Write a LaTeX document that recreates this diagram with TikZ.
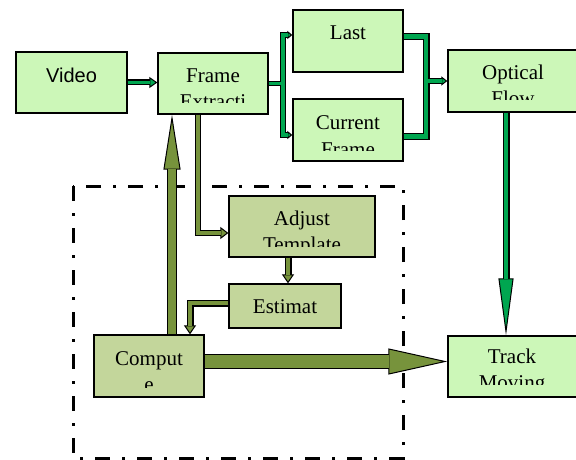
\documentclass[tikz,border=0pt]{standalone}
\usepackage{fontspec}
\setmainfont{Liberation Serif}
\newfontfamily\sansf{Liberation Sans}
\usetikzlibrary{arrows.meta,calc}
\pgfdeclarelayer{bg}
\pgfsetlayers{bg,main}
\definecolor{boxA}{HTML}{CCF7B8}
\definecolor{boxB}{HTML}{C3D69B}
\definecolor{garr}{HTML}{00A650}
\definecolor{oarr}{HTML}{77933C}
% #1 colour, #2 outer width, #3 inner width, #4 head length, #5 head width, #6 inner shortening, #7 path
\newcommand\barrow[7]{%
  \begin{pgfonlayer}{bg}
    \draw[line width=#2, black, line join=miter,
      -{Triangle[length=#4,width=#5,line width=1pt,fill=#1]}] #7;
  \end{pgfonlayer}
  \draw[line width=#3, #1, line join=miter, shorten >=#6] #7;
}
% bar without head
\newcommand\bbar[4]{%
  \begin{pgfonlayer}{bg}
    \draw[line width=#2, black, line join=miter] #4;
  \end{pgfonlayer}
  \draw[line width=#3, #1, line join=miter] #4;
}
\tikzset{
  boxa/.style={draw, line width=1.3pt, fill=boxA, rectangle, inner sep=0pt},
  boxb/.style={draw, line width=1.3pt, fill=boxB, rectangle, inner sep=0pt},
  txt/.style={anchor=base, inner sep=0pt, font=\fontsize{21}{26}\selectfont},
  stxt/.style={anchor=base, inner sep=0pt, font=\sansf\fontsize{20}{24}\selectfont},
  frame/.style={line width=3pt, dash pattern=on 15pt off 12pt on 3pt off 12pt}
}
\begin{document}
\begin{tikzpicture}[x=1pt, y=-1pt]
\useasboundingbox (0,0) rectangle (576,460);

% dashed frame (bottom layer)
\begin{pgfonlayer}{bg}
  \draw[frame] (73,186) rectangle (403,458);
\end{pgfonlayer}

% boxes
\node[boxa, minimum width=111pt, minimum height=61pt] (video) at (71.5,82.5) {};
\node[boxa, minimum width=110pt, minimum height=61pt] (fe) at (213,83.5) {};
\node[boxa, minimum width=110pt, minimum height=62pt] (last) at (348,41) {};
\node[boxa, minimum width=110pt, minimum height=62pt] (cur) at (348,130) {};
\node[boxa, minimum width=130pt, minimum height=62pt] (of) at (513,81) {};
\node[boxb, minimum width=146pt, minimum height=61pt] (adj) at (302,226.5) {};
\node[boxb, minimum width=112pt, minimum height=44pt] (est) at (285,306) {};
\node[boxb, minimum width=110pt, minimum height=62pt] (comp) at (149,366) {};
\node[boxa, minimum width=130pt, minimum height=61pt] (track) at (513,366.5) {};

% texts
\node[stxt] (video-t) at (71.5,83) {Video};
\begin{scope}
  \clip (fe.north west) rectangle (fe.east |- 0,103);
  \node[txt] (fe-t1) at (213,83) {Frame};
  \node[txt] (fe-t2) at (213,109) {Extracti};
\end{scope}
\node[txt] (last-t) at (348,40) {Last};
\begin{scope}
  \clip (cur.north west) rectangle (cur.east |- 0,150);
  \node[txt] (cur-t1) at (348,129) {Current};
  \node[txt] (cur-t2) at (348,156) {Frame};
\end{scope}
\begin{scope}
  \clip (of.north west) rectangle (of.east |- 0,100);
  \node[txt] (of-t1) at (513,80) {Optical};
  \node[txt] (of-t2) at (513,106) {Flow};
\end{scope}
\begin{scope}
  \clip (adj.north west) rectangle (adj.east |- 0,246);
  \node[txt] (adj-t1) at (302,225) {Adjust};
  \node[txt] (adj-t2) at (302,251) {Template};
\end{scope}
\node[txt] (est-t) at (285,313) {Estimat};
\begin{scope}
  \clip (comp.north west) rectangle (comp.east |- 0,387);
  \node[txt] (comp-t1) at (149,365) {Comput};
  \node[txt] (comp-t2) at (149,391) {e};
\end{scope}
\begin{scope}
  \clip (track.north west) rectangle (track.east |- 0,384);
  \node[txt] (track-t1) at (512,363) {Track};
  \node[txt] (track-t2) at (512,389) {Moving};
\end{scope}

% green connectors
\coordinate (split) at (283,83.5);
\coordinate (join) at (426,81);
\barrow{garr}{6pt}{3.6pt}{8pt}{11pt}{7pt}{(video.east) -- (video.east -| fe.west)}
\barrow{garr}{5.5pt}{3.2pt}{5pt}{8pt}{4pt}{(fe.east) -- (split) |- ([yshift=6pt]last.west)}
\barrow{garr}{5.5pt}{3.2pt}{5pt}{8pt}{4pt}{(split) |- ([yshift=-5pt]cur.west)}
\bbar{garr}{7pt}{4.6pt}{([yshift=4.5pt]last.east) -| (join)}
\bbar{garr}{7pt}{4.6pt}{([yshift=-6.5pt]cur.east) -| (join)}
\barrow{garr}{5.5pt}{3.2pt}{6pt}{9pt}{5pt}{(join) -- (of.west)}
\barrow{garr}{7pt}{4.6pt}{57pt}{15pt}{56pt}{([xshift=-7pt]of.south) -- ([xshift=-7pt]track.north)}

% olive connectors
\barrow{oarr}{10pt}{7.4pt}{55pt}{17pt}{54pt}{([xshift=23pt]comp.north) -- ([xshift=23pt]comp.north |- fe.south)}
\barrow{oarr}{6.5pt}{4pt}{8pt}{12pt}{7pt}{([xshift=-15pt]fe.south) |- ([yshift=-6.5pt]adj.west)}
\barrow{oarr}{7pt}{4.5pt}{9pt}{12pt}{8pt}{([xshift=-14pt]adj.south) -- ([xshift=-14pt]adj.south |- est.north)}
\barrow{oarr}{7pt}{4.5pt}{9pt}{12pt}{8pt}{([yshift=3pt]est.west) -| ([xshift=41pt]comp.north)}
\barrow{oarr}{15pt}{12.4pt}{59pt}{26pt}{58pt}{([yshift=4.5pt]comp.east) -- ([yshift=4.5pt]comp.east -| track.west)}
\end{tikzpicture}
\end{document}
